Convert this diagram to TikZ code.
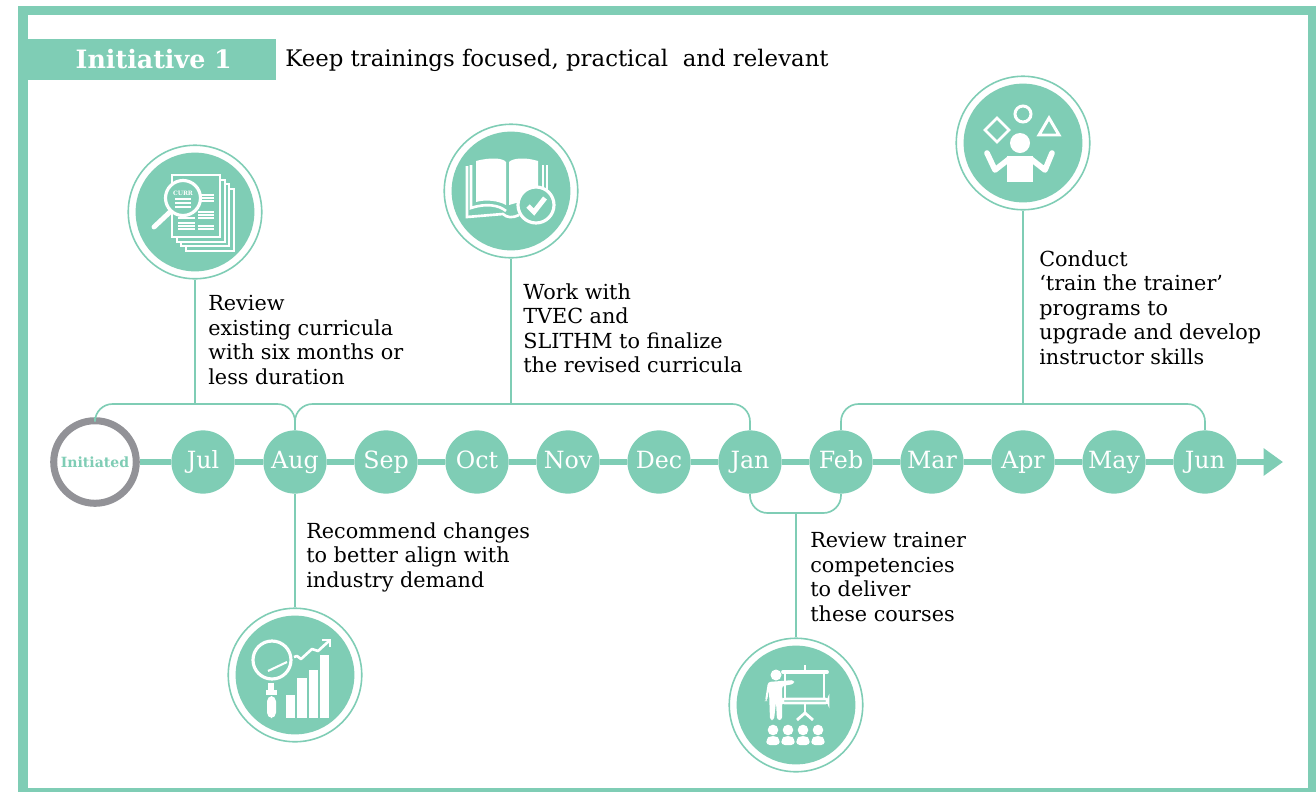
\documentclass[tikz,border=0pt]{standalone}
\usepackage{fontspec}
\setmainfont{DejaVu Serif}
\usetikzlibrary{arrows.meta,calc,positioning}
\definecolor{teal}{HTML}{7FCDB5}
\definecolor{ringgray}{HTML}{929297}
\tikzset{
    link/.style={draw=teal,line width=0.95pt,rounded corners=10pt},
    axis/.style={teal,line width=2.9pt},
    month/.style={circle,fill=teal,text=white,minimum size=36pt,inner sep=0pt,text height=7.6pt,text depth=0pt,font=\fontsize{13.5}{16}\selectfont},
    note/.style={anchor=north west,align=left,inner sep=0pt,font=\fontsize{11.8}{13.95}\selectfont},
    ring/.style={circle,draw=teal,line width=0.9pt,fill=white,minimum size=76pt,inner sep=0pt},
    disc/.style={circle,fill=teal,minimum size=67.6pt,inner sep=0pt},
    ink/.style={draw=white,line width=1.5pt,fill=none}
}
\begin{document}
\begin{tikzpicture}[x=0.02cm,y=-0.02cm]
    \useasboundingbox (0,0) rectangle (1316,792);

    % Frame and title
    \fill[teal] (18,6) rectangle (1316,15);
    \fill[teal] (18,6) rectangle (28,792);
    \fill[teal] (18,788) rectangle (1316,792);
    \fill[teal] (1308,6) rectangle (1316,792);
    \node[fill=teal,text=white,minimum width=141pt,minimum height=23.3pt,inner sep=0pt,font=\fontsize{14.4}{16}\bfseries\selectfont] (title) at (152,59.5) {\hspace{2pt}Initiative 1};
    \node[anchor=west,inner sep=0pt,font=\fontsize{13}{16}\selectfont] (subtitle) at (285,60) {Keep trainings focused, practical\ \ and relevant};

    % Timeline
    \node[circle,draw=ringgray,line width=4pt,fill=white,minimum size=47pt,inner sep=0pt,text=teal,font=\fontsize{8}{9}\bfseries\selectfont] (init) at (95,462) {Initiated};
    \foreach \name/\lab/\px in {jul/Jul/203,aug/Aug/295,sep/Sep/386,oct/Oct/477,nov/Nov/568,dec/Dec/659,jan/Jan/750,feb/Feb/841,mar/Mar/932,apr/Apr/1023,may/May/1114,jun/Jun/1205}
        \node[month] (\name) at (\px,462) {\lab};
    \coordinate (end) at (1283,462);
    \draw[axis,-{Triangle[length=11pt,width=15pt]}] (jun) -- (end);
    \foreach \a/\b in {init/jul,jul/aug,aug/sep,sep/oct,oct/nov,nov/dec,dec/jan,jan/feb,feb/mar,mar/apr,apr/may,may/jun}
        \draw[axis] (\a) -- (\b);

    % Icon rings
    \node[ring] (review) at (195,212) {};
    \node[disc] at (review.center) {};
    \node[ring] (book) at (511,191) {};
    \node[disc] at (book.center) {};
    \node[ring] (juggle) at (1023,143) {};
    \node[disc] at (juggle.center) {};
    \node[ring] (chart) at (295,675) {};
    \node[disc] at (chart.center) {};
    \node[ring] (teach) at (796,705) {};
    \node[disc] at (teach.center) {};

    % Brackets
    \coordinate (top1) at (195,404);
    \coordinate (top2) at (511,404);
    \coordinate (top3) at (1023,404);
    \coordinate (low1) at (796,513);
    \draw[link] (init.north) |- (top1) -| (aug.north);
    \draw[link] (aug.north) |- (top2) -| (jan.north);
    \draw[link] (feb.north) |- (top3) -| (jun.north);
    \draw[link] (jan.south) |- (low1) -| (feb.south);
    \draw[link] (review.south) -- (top1);
    \draw[link] (book.south) -- (top2);
    \draw[link] (juggle.south) -- (top3);
    \draw[link] (aug.south) -- (chart.north);
    \draw[link] (low1) -- (teach.north);

    % Notes
    \node[note] (n1) at (208,295) {Review\\existing curricula\\with six months or\\less duration};
    \node[note] (n2) at (523,283) {Work with\\TVEC and\\SLITHM to finalize\\the revised curricula};
    \node[note] (n3) at (1039,250) {Conduct\\‘train the trainer’\\programs to\\upgrade and develop\\instructor skills};
    \node[note] (n4) at (306,522) {Recommend changes\\to better align with\\industry demand};
    \node[note] (n5) at (810,532) {Review trainer\\competencies\\to deliver\\these courses};

    % Curricula icon
    \begin{scope}[shift={(195,212)}]
        \foreach \d in {14,9,5,0}
            \draw[ink,fill=teal] (-23+\d,-37+\d) rectangle (25+\d,25+\d);
        \foreach \yy in {-17,-14,-11,0,3,6,14,17}
            \draw[white,line width=0.6pt] (3,\yy) -- (19,\yy);
        \foreach \yy in {6,11,14,17}
            \draw[white,line width=0.6pt] (-17,\yy) -- (0,\yy);
        \draw[white,line width=2.8pt,line cap=round] (-25,0) -- (-41,15);
        \draw[ink,fill=teal,line width=1.8pt] (-12,-14) circle (17.5);
        \node[text=white,inner sep=0pt,font=\fontsize{3.4}{4}\bfseries\selectfont] (curr) at (-12,-19) {CURR};
        \foreach \yy in {-13,-9,-5}
            \draw[white,line width=0.6pt] (-20,\yy) -- (-4,\yy);
    \end{scope}

    % Book icon
    \begin{scope}[shift={(511,191)}]
        \fill[white] (-35,-30) .. controls (-20,-34) and (-8,-33) .. (-5,-29) -- (-5,14) .. controls (-12,10) and (-25,8) .. (-35,11) -- cycle;
        \fill[white] (-2,-29) .. controls (2,-33) and (14,-34) .. (27,-30) -- (27,8) -- (5,12) -- (-2,14) -- cycle;
        \draw[ink] (-44,-25) -- (-44,26) -- (-8,23) .. controls (-4,27) and (2,27) .. (8,24);
        \draw[ink] (-40,-26) -- (-40,17) .. controls (-25,12) and (-12,14) .. (-5,20);
        \draw[ink] (32,-26) -- (32,0);
        \draw[ink] (36,-26) -- (36,2);
        \draw[ink,fill=teal,line width=1.8pt] (25,14) circle (18);
        \draw[white,line width=2.8pt] (17,15) -- (23,21) -- (34,7);
    \end{scope}

    % Juggling icon
    \begin{scope}[shift={(1023,143)}]
        \draw[ink] (-26,-25) -- (-14,-13) -- (-26,-1) -- (-38,-13) -- cycle;
        \draw[ink,line width=1.7pt] (0,-29) circle (8);
        \draw[ink,line width=1.7pt] (26,-25) -- (36,-8) -- (16,-8) -- cycle;
        \fill[white] (-3,0) circle (10);
        \fill[white] (-16,13) rectangle (10,39);
        \draw[white,line width=3.2pt,line cap=round,line join=round] (-36,10) -- (-28,27) -- (-14,16);
        \draw[white,line width=3.2pt,line cap=round,line join=round] (29,10) -- (22,27) -- (8,16);
    \end{scope}

    % Chart icon
    \begin{scope}[shift={(295,675)}]
        \draw[ink,line width=1.8pt] (-23,-15) circle (19);
        \draw[white,line width=1.2pt] (-27,-4) -- (-8,-13);
        \fill[white] (-27,8) rectangle (-21,15);
        \fill[white] (-29,15) rectangle (-18,20);
        \fill[white,rounded corners=3pt] (-28,21) rectangle (-19,43);
        \fill[white] (-9,20) rectangle (0,43);
        \fill[white] (2,3) rectangle (12,43);
        \fill[white] (14,-5) rectangle (23,43);
        \fill[white] (25,-20) rectangle (34,43);
        \draw[white,line width=1.5pt,line join=round] (-1,-18) -- (2,-19) -- (6,-16) -- (17,-26) -- (23,-24) -- (34,-34);
        \draw[white,line width=1.5pt] (27,-35) -- (35,-35) -- (35,-28);
    \end{scope}

    % Trainer icon
    \begin{scope}[shift={(796,705)}]
        \fill[white] (-20,-30) circle (5.5);
        \fill[white,rounded corners=1.5pt] (-31,-4) -- (-28,-23) -- (-2,-25) -- (-2,-21) -- (-14,-19) -- (-14,15) -- (-19,15) -- (-20,-3) -- (-22,15) -- (-26,15) -- (-27,-15) -- (-29,-4) -- cycle;
        \draw[white,line width=2.2pt,line cap=round] (-13,-33) -- (31,-33);
        \draw[white,line width=1.6pt] (9,-40) -- (9,-33);
        \draw[white,line width=1.6pt] (-11,-33) -- (-11,-5);
        \draw[white,line width=1.6pt] (28,-33) -- (28,-5);
        \draw[ink,rounded corners=1.5pt] (-14,-6) rectangle (32,-2);
        \draw[white,line width=1.6pt] (9,-2) -- (9,8);
        \draw[white,line width=1.6pt] (1,15) -- (9,8) -- (17,15);
        \foreach \d in {-23,-8,7,22} {
            \fill[white] (\d,25) circle (5.3);
            \fill[white,rounded corners=2pt] (\d-6.7,40) -- (\d-6.7,34) -- (\d-3,31) -- (\d+3,31) -- (\d+6.7,34) -- (\d+6.7,40) -- cycle;
        }
    \end{scope}
\end{tikzpicture}
\end{document}
